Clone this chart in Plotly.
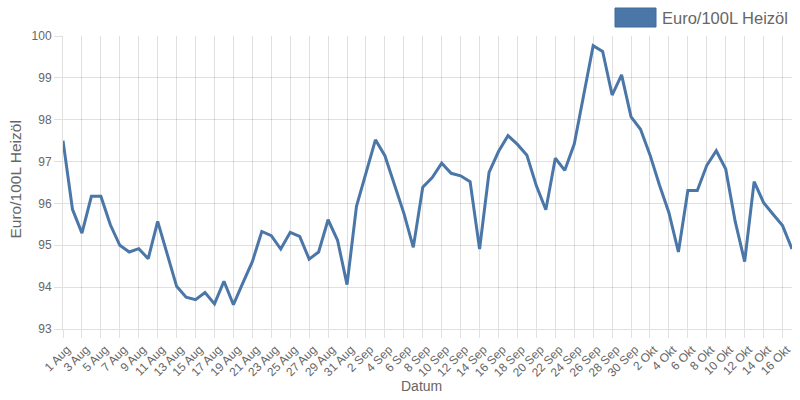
import plotly.graph_objects as go

# Categories: 1 Aug .. 17 Okt
dates = ([f"{d} Aug" for d in range(1, 32)] +
         [f"{d} Sep" for d in range(1, 31)] +
         [f"{d} Okt" for d in range(1, 18)])

prices = [
    97.50, 95.86, 95.29, 96.17, 96.17, 95.49, 95.00, 94.84, 94.92, 94.68,
    95.57, 94.81, 94.02, 93.76, 93.70, 93.87, 93.60, 94.14, 93.58, 94.10,
    94.61, 95.33, 95.23, 94.91, 95.31, 95.21, 94.67, 94.84, 95.61, 95.12,
    94.06, 95.93, 96.72, 97.52, 97.14, 96.44, 95.77, 94.95, 96.39, 96.62,
    96.96, 96.72, 96.66, 96.52, 94.91, 96.74, 97.24, 97.62, 97.41, 97.15,
    96.42, 95.85, 97.08, 96.79, 97.42, 98.59, 99.77, 99.63, 98.59, 99.07,
    98.07, 97.77, 97.16, 96.44, 95.78, 94.84, 96.31, 96.31, 96.91, 97.26,
    96.82, 95.57, 94.61, 96.52, 96.02, 95.74, 95.47, 94.91,
]

tick_labels = dates[::2]
series_name = "Euro/100L Heizöl"
x_title = "Datum"
line_color = "#4A76A8"
grid_color = "rgba(0,0,0,0.12)"
font_family = "Liberation Sans, Arial, sans-serif"

L, R, T, B = 63, 8, 36, 71
W, H = 800, 400
pw, ph = W - L - R, H - T - B

fig = go.Figure()
fig.add_trace(go.Scatter(
    x=dates, y=prices, mode="lines", name=series_name,
    line=dict(color=line_color, width=3), showlegend=False, hoverinfo="skip",
))

fig.update_layout(
    width=W, height=H,
    margin=dict(l=L, r=R, t=T, b=B),
    paper_bgcolor="white", plot_bgcolor="white",
    font=dict(family=font_family, color="#666", size=12),
    xaxis=dict(
        type="category", tickmode="array", tickvals=tick_labels, ticktext=tick_labels,
        tickangle=-45, showgrid=True, gridcolor=grid_color, gridwidth=1,
        ticks="outside", ticklen=8, tickcolor=grid_color,
        showline=True, linecolor=grid_color, zeroline=False,
        range=[0, len(dates) - 1], automargin=False, ticklabelshift=4,
        tickfont=dict(size=12, color="#666"),
    ),
    yaxis=dict(
        range=[93, 100], dtick=1, showgrid=True, gridcolor=grid_color, gridwidth=1,
        ticks="outside", ticklen=8, tickcolor=grid_color,
        showline=True, linecolor=grid_color, zeroline=False, automargin=False,
        tickfont=dict(size=12, color="#666"),
    ),
)

def px(x):
    return (x - L) / pw

def py(y):
    return (H - B - y) / ph

# axis titles
fig.add_annotation(xref="paper", yref="paper", x=px(14.5), y=py(180), showarrow=False,
                   text=series_name, textangle=-90, xanchor="center", yanchor="middle",
                   font=dict(size=15.5, color="#666", family=font_family))
fig.add_annotation(xref="paper", yref="paper", x=px(421), y=py(386), showarrow=False,
                   text=x_title, xanchor="center", yanchor="middle",
                   font=dict(size=14, color="#666", family=font_family))

# legend box drawn manually to mimic the wide swatch
fig.add_shape(type="rect", xref="paper", yref="paper",
              x0=px(615), x1=px(656), y0=py(27), y1=py(8),
              fillcolor=line_color, line=dict(color="#3E6A9C", width=1))
fig.add_annotation(xref="paper", yref="paper", x=px(660), y=py(17.5),
                   xanchor="left", yanchor="middle", showarrow=False,
                   text=series_name, font=dict(size=16.5, color="#666", family=font_family))

fig.write_html("out.html", config={"displayModeBar": False},
               post_script="document.body.style.margin='0';")
